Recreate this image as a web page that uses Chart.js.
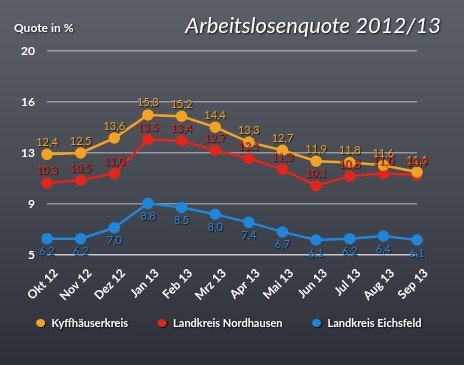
<!DOCTYPE html>
<html>
<head>
<meta charset="utf-8">
<script src="https://cdn.jsdelivr.net/npm/chart.js@4/dist/chart.umd.min.js"></script>
<style>
  html, body { margin: 0; padding: 0; }
  body {
    width: 464px; height: 365px; overflow: hidden;
    background: linear-gradient(to bottom, #5b5f67 0%, #484c54 45%, #2d3038 100%);
  }
  #wrap { width: 464px; height: 365px; position: relative; }
</style>
</head>
<body>
<div id="wrap"><canvas id="chart"></canvas></div>
<script>
const months = ["Okt 12", "Nov 12", "Dez 12", "Jan 13", "Feb 13", "Mrz 13",
                "Apr 13", "Mai 13", "Jun 13", "Jul 13", "Aug 13", "Sep 13"];
const kyffhaeuser = [12.4, 12.5, 13.6, 15.3, 15.2, 14.4, 13.3, 12.7, 11.9, 11.8, 11.6, 11.1];
const nordhausen  = [10.3, 10.5, 11.0, 13.5, 13.4, 12.7, 12.1, 11.3, 10.1, 10.8, 11.0, 10.9];
const eichsfeld   = [6.2, 6.2, 7.0, 8.8, 8.5, 8.0, 7.4, 6.7, 6.1, 6.2, 6.4, 6.1];
const yMin = 5, yMax = 20, yStep = 3.75;

const FONT = "Lato, 'DejaVu Sans', sans-serif";
const ORANGE = "#f2a420", RED = "#e3261b", BLUE = "#1f86dc";

function fmt(v) { return v.toFixed(1).replace(".", ","); }

function shadow(ctx, blur) {
  ctx.shadowColor = "rgba(0,0,0,0.75)";
  ctx.shadowOffsetX = 1;
  ctx.shadowOffsetY = 1;
  ctx.shadowBlur = blur;
}

// value labels, header texts and legend
const decorations = {
  id: "decorations",
  afterDatasetsDraw(chart) {
    const ctx = chart.ctx;
    ctx.save();
    ctx.font = "11px " + FONT;
    ctx.textAlign = "center";
    ctx.textBaseline = "middle";
    shadow(ctx, 1);
    chart.data.datasets.forEach((ds, i) => {
      const meta = chart.getDatasetMeta(i);
      const dy = ds.labelBelow ? 13 : -12;
      meta.data.forEach((pt, j) => {
        ctx.fillStyle = ds.borderColor;
        ctx.fillText(fmt(ds.data[j]), pt.x, pt.y + dy);
      });
    });
    ctx.restore();
  },
  afterDraw(chart) {
    const ctx = chart.ctx;
    ctx.save();
    ctx.fillStyle = "#ffffff";
    shadow(ctx, 2);
    ctx.textBaseline = "middle";
    ctx.textAlign = "left";
    ctx.font = "bold 12px " + FONT;
    ctx.fillText("Quote in %", 14, 28);
    ctx.textAlign = "right";
    ctx.font = "italic 22px " + FONT;
    ctx.fillText("Arbeitslosenquote 2012/13", 441, 26);

    // legend
    ctx.font = "bold 11px " + FONT;
    ctx.textAlign = "left";
    const gap = 30, mark = 15;
    const items = chart.data.datasets.map(ds => ({
      label: ds.label, color: ds.borderColor, w: mark + ctx.measureText(ds.label).width
    }));
    const total = items.reduce((s, it) => s + it.w, 0) + gap * (items.length - 1);
    let x = 229 - total / 2;
    const y = 323;
    items.forEach(it => {
      ctx.save();
      shadow(ctx, 1);
      ctx.fillStyle = it.color;
      ctx.beginPath();
      ctx.ellipse(x + 4, y, 4.5, 4, 0, 0, Math.PI * 2);
      ctx.fill();
      ctx.restore();
      ctx.fillStyle = "#ffffff";
      ctx.fillText(it.label, x + mark, y);
      x += it.w + gap;
    });
    ctx.restore();
  }
};

function series(label, data, color, below) {
  return {
    label: label,
    data: data,
    borderColor: color,
    backgroundColor: color,
    pointBackgroundColor: color,
    pointBorderColor: color,
    borderWidth: 2.5,
    pointRadius: 4.5,
    pointHoverRadius: 4.5,
    tension: 0,
    labelBelow: below
  };
}

new Chart(document.getElementById("chart"), {
  type: "line",
  data: {
    labels: months,
    datasets: [
      series("Kyffhäuserkreis", kyffhaeuser, ORANGE, false),
      series("Landkreis Nordhausen", nordhausen, RED, false),
      series("Landkreis Eichsfeld", eichsfeld, BLUE, true)
    ]
  },
  options: {
    responsive: true,
    maintainAspectRatio: false,
    animation: false,
    layout: { padding: { top: 51, right: 47, left: 0, bottom: 58 } },
    scales: {
      y: {
        min: yMin,
        max: yMax,
        afterFit(scale) { scale.width = 47; },
        afterBuildTicks(scale) {
          const t = [];
          for (let v = yMin; v <= yMax + 0.001; v += yStep) t.push({ value: v });
          scale.ticks = t;
        },
        ticks: {
          color: "#ffffff",
          font: { family: FONT, size: 12, weight: "bold" },
          padding: 12,
          callback: (v) => Math.round(v + 0.001)
        },
        grid: {
          color: (c) => c.tick && c.tick.value === yMin ? "rgba(235,235,240,0.8)" : "rgba(225,225,232,0.5)",
          lineWidth: 1.5,
          drawTicks: false
        },
        border: { display: false }
      },
      x: {
        offset: false,
        afterFit(scale) { scale.height = 52; },
        ticks: {
          color: "#ffffff",
          font: { family: FONT, size: 12, weight: "bold" },
          minRotation: 45,
          maxRotation: 45,
          labelOffset: 9,
          padding: 3,
          autoSkip: false
        },
        grid: { display: false },
        border: { display: false }
      }
    },
    plugins: {
      legend: { display: false },
      tooltip: { enabled: false }
    }
  },
  plugins: [decorations]
});
</script>
</body>
</html>
